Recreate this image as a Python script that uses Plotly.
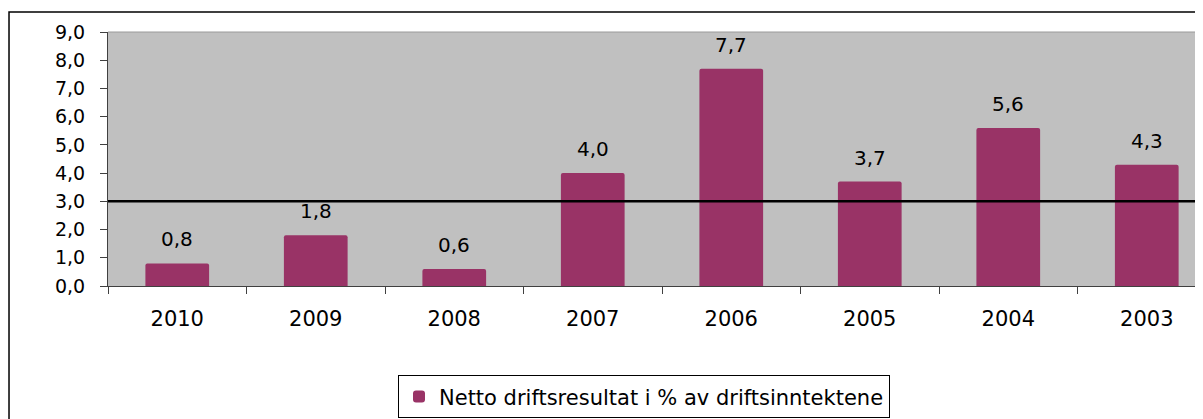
import plotly.graph_objects as go

years = ["2010", "2009", "2008", "2007", "2006", "2005", "2004", "2003"]
values = [0.8, 1.8, 0.6, 4.0, 7.7, 3.7, 5.6, 4.3]
reference_level = 3.0
series_name = "Netto driftsresultat i % av driftsinntektene"
y_ticks = [0, 1, 2, 3, 4, 5, 6, 7, 8, 9]

FONT = "DejaVu Sans, Verdana, sans-serif"

fig = go.Figure()
fig.add_trace(go.Bar(
    x=years, y=values, name=series_name,
    marker=dict(color="#993366", line=dict(width=0), cornerradius=2),
    width=0.46,
    showlegend=True,
))

for i, v in enumerate(values):
    fig.add_annotation(x=i, y=v, xref="x", yref="y",
                       text=f"{v:.1f}".replace(".", ","),
                       showarrow=False, yanchor="bottom", yshift=10,
                       font=dict(family=FONT, size=20, color="#000000"))

fig.add_shape(type="line", xref="paper", yref="y", x0=0, x1=1,
              y0=reference_level, y1=reference_level,
              line=dict(color="#000000", width=2.5))
# outer chart border
fig.add_shape(type="rect", xref="paper", yref="paper",
              x0=-0.0904, x1=1.02, y0=-0.6, y1=1.0787,
              line=dict(color="#000000", width=1.5), layer="below")
# top edge of plot area
fig.add_shape(type="line", xref="paper", yref="paper", x0=0, x1=1, y0=1, y1=1,
              line=dict(color="#9a9a9a", width=1))

fig.update_layout(
    width=1195, height=411,
    margin=dict(l=100, r=0, t=24, b=133),
    paper_bgcolor="#FFFFFF",
    plot_bgcolor="#C0C0C0",
    separators=",.",
    font=dict(family=FONT, size=18, color="#000000"),
    showlegend=True,
    legend=dict(
        x=0.4895, xanchor="center", y=-0.352, yanchor="top",
        orientation="h",
        bordercolor="#000000", borderwidth=1,
        bgcolor="#FFFFFF",
        font=dict(family=FONT, size=21, color="#000000"),
        itemwidth=30,
    ),
    xaxis=dict(
        type="category",
        range=[-0.5, 7.406],
        showline=True, linecolor="#404040", linewidth=1,
        ticks="outside", ticklen=7, tickcolor="#404040",
        tickson="boundaries",
        showgrid=False,
        ticklabelstandoff=14,
        tickfont=dict(family=FONT, size=21),
    ),
    yaxis=dict(
        range=[0, 9],
        tickvals=y_ticks, tickformat=".1f",
        showline=True, linecolor="#404040", linewidth=1,
        ticks="outside", ticklen=7, tickcolor="#404040",
        showgrid=False, zeroline=False,
        ticklabelstandoff=11,
        tickfont=dict(family=FONT, size=19),
    ),
)

fig.write_html("out.html")
